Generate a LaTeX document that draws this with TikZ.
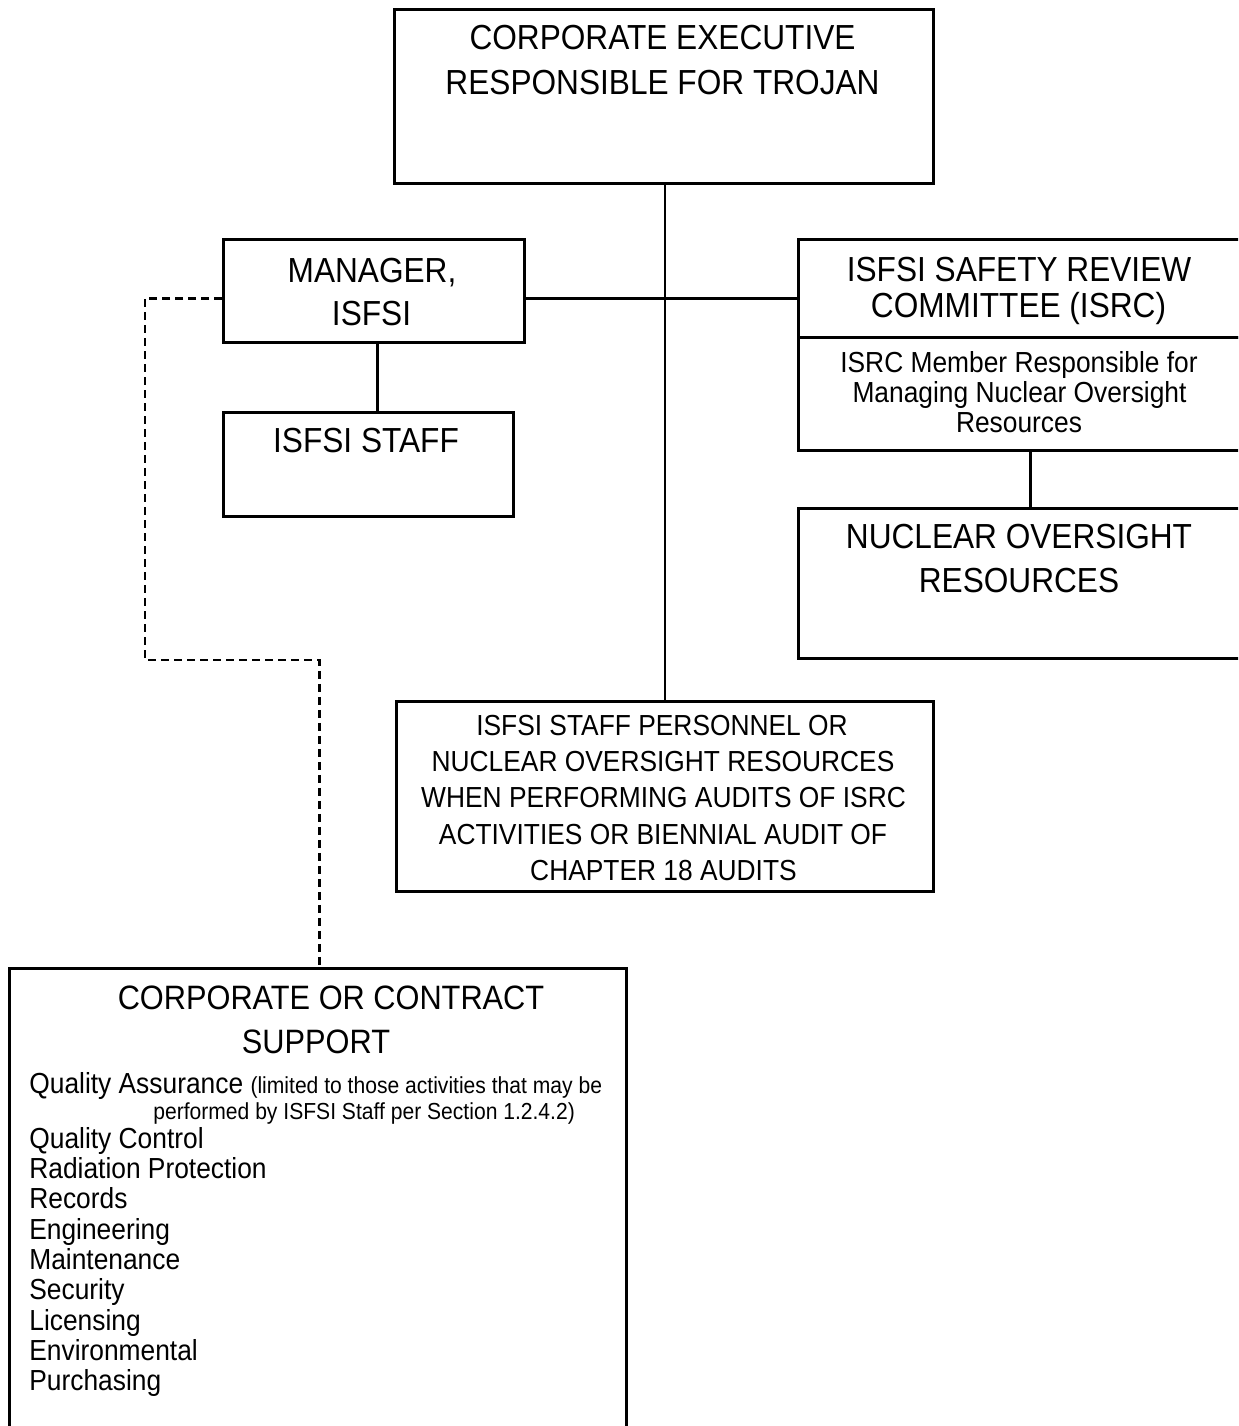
\documentclass[tikz,border=0pt]{standalone}
\usepackage{fontspec}
\setmainfont{Liberation Sans}
\newcommand{\vst}[1]{\scalebox{1}[1.1]{#1}}
\begin{document}
\begin{tikzpicture}[x=0.02cm,y=-0.02cm,
  box/.style={draw, line width=1.5pt, rectangle, anchor=north west, inner sep=0pt},
  conn/.style={line width=1.4pt},
  dconn/.style={line width=1.6pt, dash pattern=on 0.16cm off 0.1cm},
  big/.style={anchor=base, inner sep=0pt, font=\fontsize{18}{20}\selectfont},
  mid/.style={anchor=base, inner sep=0pt, font=\fontsize{17.5}{20}\selectfont},
  sml/.style={anchor=base, inner sep=0pt, font=\fontsize{15}{17}\selectfont},
  item/.style={anchor=base west, inner sep=0pt, font=\fontsize{15}{17}\selectfont},
  tiny/.style={anchor=base west, inner sep=0pt, font=\fontsize{12}{14}\selectfont}]
\useasboundingbox (0,0) rectangle (1238,1426);
\fill[white] (0,0) rectangle (1238,1426);
\clip (0,0) rectangle (1238,1426);

% boxes
\node[box, minimum width=10.78cm, minimum height=3.48cm] (top) at (393,8) {};
\node[box, minimum width=6.02cm, minimum height=2.06cm] (mgr) at (222,238) {};
\node[box, minimum width=5.80cm, minimum height=2.08cm] (staff) at (222,411) {};
\node[box, minimum width=9.28cm, minimum height=1.96cm] (isrc) at (797,238) {};
\node[box, minimum width=9.28cm, minimum height=2.26cm] (isrcm) at (797,336) {};
\node[box, minimum width=9.28cm, minimum height=3.00cm] (nuc) at (797,507) {};
\node[box, minimum width=10.74cm, minimum height=3.80cm] (aud) at (395,700) {};
\node[box, minimum width=12.34cm, minimum height=10.00cm] (cs) at (8,967) {};

% connectors
\draw[conn] (top.south -| aud.north) -- (aud.north);
\draw[conn] ([yshift=-0.15cm]mgr.east) -- ([yshift=-0.15cm]mgr.east -| isrc.west);
\draw[conn] ([xshift=0.07cm]mgr.south) -- ([xshift=0.07cm]mgr.south |- staff.north);
\draw[conn] (isrcm.south) -- (nuc.north);
\coordinate (dl) at (145,660);
\draw[dconn] ([yshift=-0.15cm]mgr.west) -| (dl) -| ([xshift=0.03cm]cs.north);

% texts
\node[big] (t1) at (662.5,50) {\vst{CORPORATE EXECUTIVE}};
\node[big] (t2) at (662.5,94) {\vst{RESPONSIBLE FOR TROJAN}};
\node[big] (m1) at (372,282) {\vst{MANAGER,}};
\node[big] (m2) at (371.5,325) {\vst{ISFSI}};
\node[big] (s1) at (366,452) {\vst{ISFSI STAFF}};
\node[big] (r1) at (1019,281) {\vst{ISFSI SAFETY REVIEW}};
\node[big] (r2) at (1018.5,317) {\vst{COMMITTEE (ISRC)}};
\node[sml] (rm1) at (1019,372) {\vst{ISRC Member Responsible for}};
\node[sml] (rm2) at (1019.5,402) {\vst{Managing Nuclear Oversight}};
\node[sml] (rm3) at (1019,432) {\vst{Resources}};
\node[big] (n1) at (1019,548) {\vst{NUCLEAR OVERSIGHT}};
\node[big] (n2) at (1019,592) {\vst{RESOURCES}};
\node[sml] (a1) at (662,735) {\vst{ISFSI STAFF PERSONNEL OR}};
\node[sml] (a2) at (663,771) {\vst{NUCLEAR OVERSIGHT RESOURCES}};
\node[sml] (a3) at (663.5,807) {\vst{WHEN PERFORMING AUDITS OF ISRC}};
\node[sml] (a4) at (663,844) {\vst{ACTIVITIES OR BIENNIAL AUDIT OF}};
\node[sml] (a5) at (663.5,880) {\vst{CHAPTER 18 AUDITS}};
\node[mid] (c1) at (331,1009) {\vst{CORPORATE OR CONTRACT}};
\node[mid] (c2) at (316,1053) {\vst{SUPPORT}};
\node[item] (i1) at (29,1093) {\vst{Quality Assurance {\fontsize{12}{14}\selectfont (limited to those activities that may be}}};
\node[tiny] (i1b) at (153,1119) {\vst{performed by ISFSI Staff per Section 1.2.4.2)}};
\node[item] (i2) at (29,1148) {\vst{Quality Control}};
\node[item] (i3) at (29,1178) {\vst{Radiation Protection}};
\node[item] (i4) at (29,1208) {\vst{Records}};
\node[item] (i5) at (29,1239) {\vst{Engineering}};
\node[item] (i6) at (29,1269) {\vst{Maintenance}};
\node[item] (i7) at (29,1299) {\vst{Security}};
\node[item] (i8) at (29,1330) {\vst{Licensing}};
\node[item] (i9) at (29,1360) {\vst{Environmental}};
\node[item] (i10) at (29,1390) {\vst{Purchasing}};
\end{tikzpicture}
\end{document}
